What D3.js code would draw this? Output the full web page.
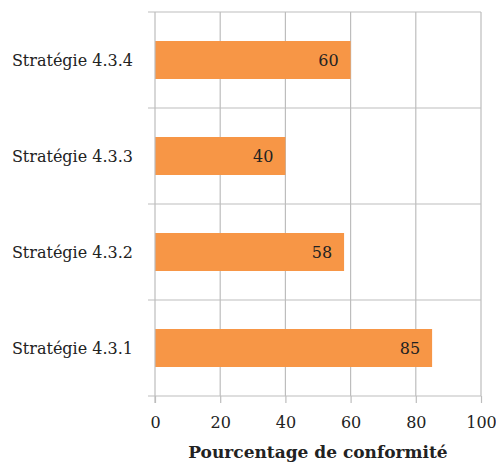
<!DOCTYPE html>
<html lang="fr">
<head>
<meta charset="UTF-8" />
<title>Conformité</title>
<script src="https://d3js.org/d3.v7.min.js"></script>
<style>
  body { margin: 0; background: #fff; }
  text { font-family: "DejaVu Serif", serif; fill: #222; }
</style>
</head>
<body>
<script>
// data
var categories = ["Stratégie 4.3.4", "Stratégie 4.3.3", "Stratégie 4.3.2", "Stratégie 4.3.1"];
var values = [60, 40, 58, 85];
var xTicks = [0, 20, 40, 60, 80, 100];

var w = 496, h = 467;
var mLeft = 155, mRight = 481, mTop = 12, mBottom = 396;
var font = '"DejaVu Serif", serif';

var svg = d3.select("body").append("svg")
    .attr("width", w)
    .attr("height", h);

var x = d3.scaleLinear().domain([0, 100]).range([mLeft, mRight]);
var y = d3.scaleBand().domain(categories).range([mTop, mBottom]);

var grid = "#bdbdbd";

// vertical grid
svg.selectAll(".vgrid")
    .data(xTicks.slice(1))
    .enter().append("line")
    .attr("x1", d => x(d)).attr("x2", d => x(d))
    .attr("y1", mTop).attr("y2", mBottom)
    .attr("stroke", grid).attr("stroke-width", 1.2);

// horizontal separators (with ticks to the left)
var seps = [mTop].concat(categories.slice(1).map(c => y(c)));
svg.selectAll(".hgrid")
    .data(seps)
    .enter().append("line")
    .attr("x1", mLeft - 7).attr("x2", mRight)
    .attr("y1", d => d).attr("y2", d => d)
    .attr("stroke", grid).attr("stroke-width", 1.2);

// bars
var bh = 38;
svg.selectAll(".bar")
    .data(values)
    .enter().append("rect")
    .attr("x", x(0))
    .attr("y", (d, i) => y(categories[i]) + y.bandwidth() / 2 - bh / 2)
    .attr("width", d => x(d) - x(0))
    .attr("height", bh)
    .attr("fill", "#f79646");

// value labels
svg.selectAll(".val")
    .data(values)
    .enter().append("text")
    .attr("x", d => x(d) - 12)
    .attr("y", (d, i) => y(categories[i]) + y.bandwidth() / 2 + 6)
    .attr("text-anchor", "end")
    .style("font-family", font)
    .style("font-size", "16px")
    .text(d => d);

// category labels
svg.selectAll(".cat")
    .data(categories)
    .enter().append("text")
    .attr("x", 133)
    .attr("y", d => y(d) + y.bandwidth() / 2 + 6)
    .attr("text-anchor", "end")
    .style("font-family", font)
    .style("font-size", "16px")
    .text(d => d);

// axes lines
svg.append("line")
    .attr("x1", mLeft).attr("x2", mLeft)
    .attr("y1", mTop).attr("y2", mBottom + 7)
    .attr("stroke", grid).attr("stroke-width", 1.2);
svg.append("line")
    .attr("x1", mLeft - 7).attr("x2", mRight)
    .attr("y1", mBottom).attr("y2", mBottom)
    .attr("stroke", grid).attr("stroke-width", 1.2);

// x axis
var xAxis = d3.axisBottom(x).tickValues(xTicks).tickSize(7).tickPadding(14);
var ga = svg.append("g")
    .attr("transform", "translate(0," + mBottom + ")")
    .call(xAxis);
ga.select(".domain").remove();
ga.selectAll(".tick line").attr("stroke", grid).attr("stroke-width", 1.2);
ga.selectAll(".tick text")
    .style("font-family", font)
    .style("font-size", "16px")
    .attr("fill", "#222");

svg.append("text")
    .attr("x", 318)
    .attr("y", 458)
    .attr("text-anchor", "middle")
    .style("font-family", font)
    .style("font-size", "17px")
    .style("font-weight", "bold")
    .text("Pourcentage de conformité");
</script>
</body>
</html>
